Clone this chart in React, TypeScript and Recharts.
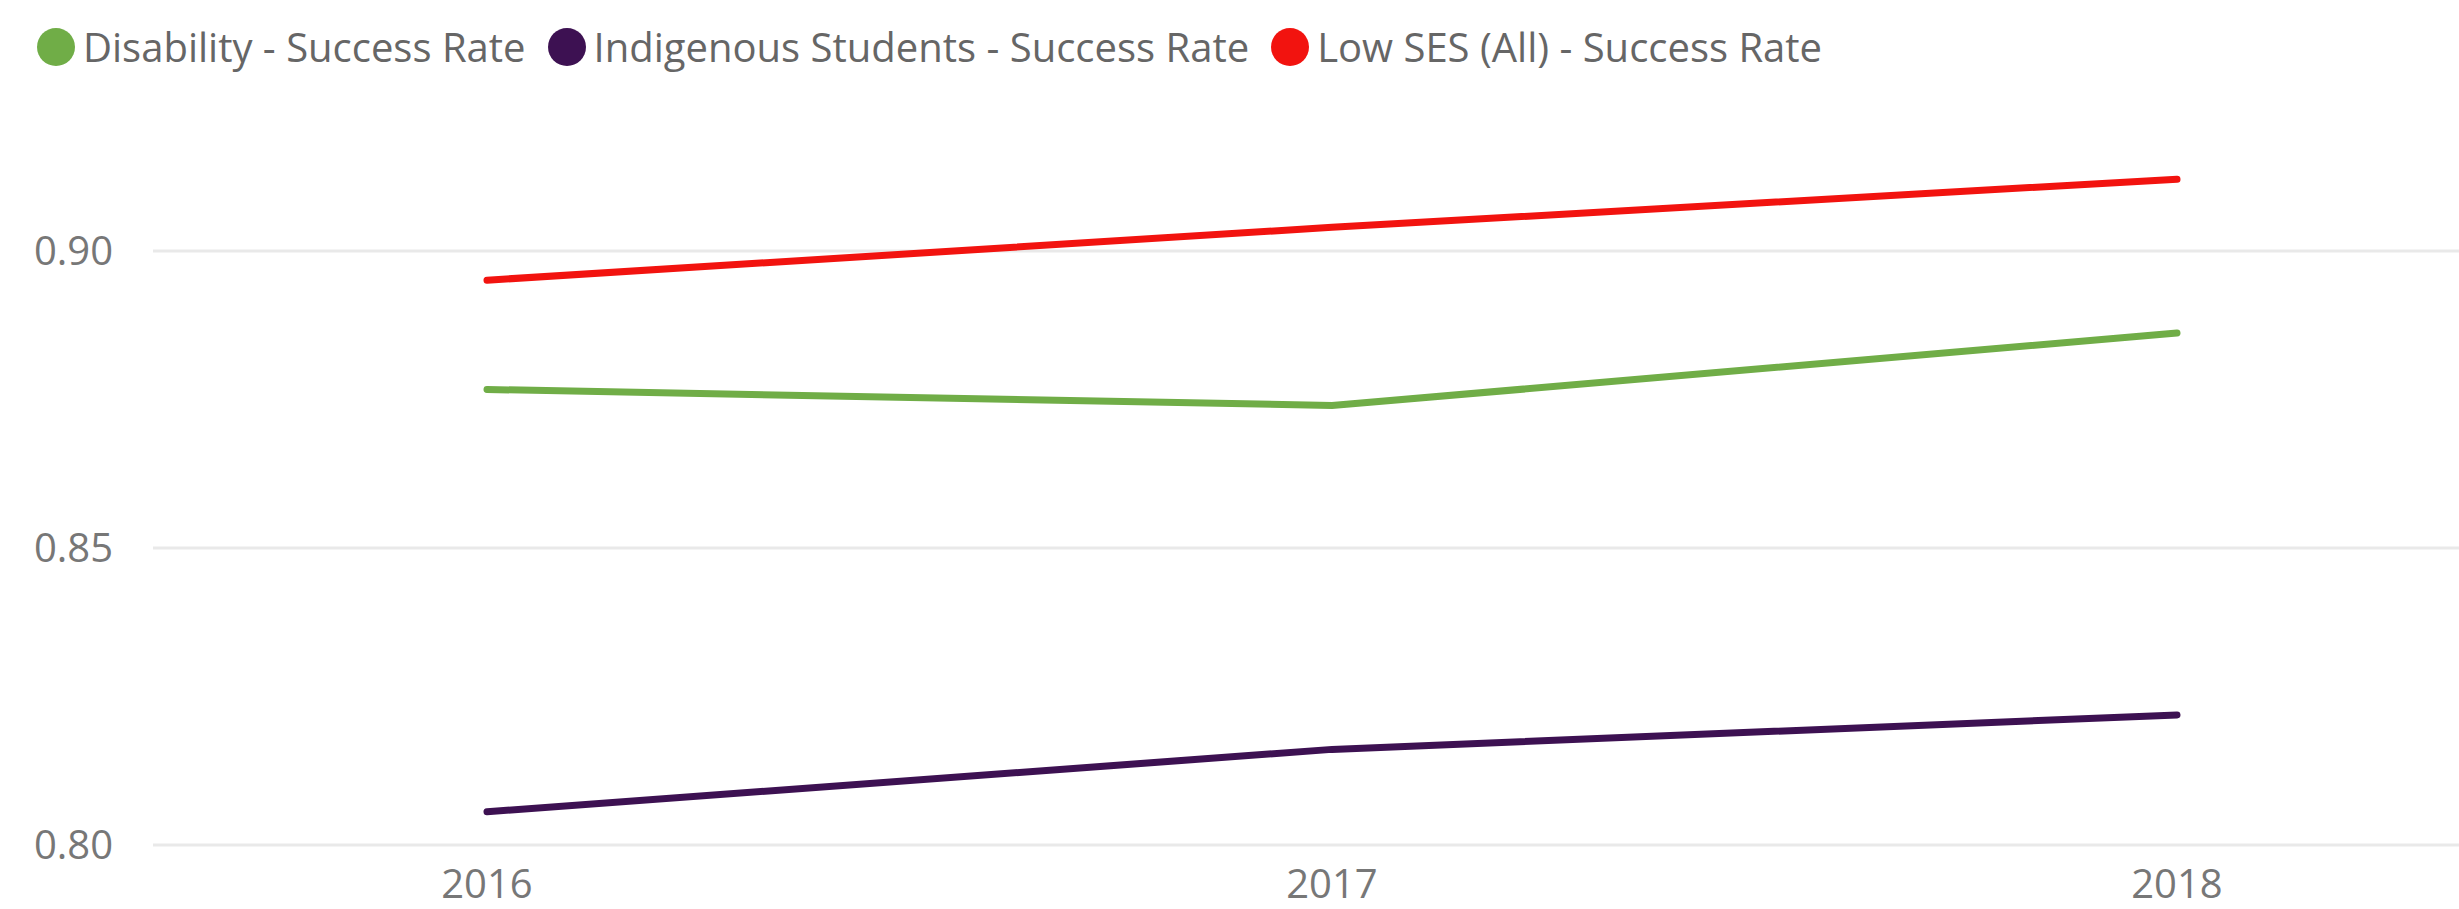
import React from 'react';
import { LineChart, Line, XAxis, YAxis, ReferenceLine } from 'recharts';

const years = ['2016', '2017', '2018'];
const disability = [0.8767, 0.874, 0.8862];
const indigenous = [0.8056, 0.8161, 0.8219];
const lowSes = [0.8951, 0.904, 0.9121];
const yTicks = [0.8, 0.85, 0.9];

const seriesList = [
  { key: 'disability', name: 'Disability - Success Rate', color: '#70AD47', values: disability },
  { key: 'indigenous', name: 'Indigenous Students - Success Rate', color: '#3D1152', values: indigenous },
  { key: 'lowSes', name: 'Low SES (All) - Success Rate', color: '#F2130F', values: lowSes },
];

const data = years.map((year, i) => {
  const row: Record<string, string | number> = { year };
  seriesList.forEach((s) => {
    row[s.key] = s.values[i];
  });
  return row;
});

const FONT = '"Open Sans", "Segoe UI", sans-serif';

// legend drawn by hand (outside the svg) so it doesn't squeeze the plot
const ChartLegend = () => (
  <div
    style={{
      position: 'absolute',
      left: 37,
      top: 27,
      display: 'flex',
      alignItems: 'center',
      fontFamily: FONT,
      fontSize: 40,
      lineHeight: '40px',
      color: '#666666',
      whiteSpace: 'nowrap',
    }}
  >
    {seriesList.map((s) => (
      <div key={s.key} style={{ display: 'flex', alignItems: 'center', marginRight: 22 }}>
        <span
          style={{
            width: 38,
            height: 38,
            borderRadius: '50%',
            background: s.color,
            display: 'inline-block',
            marginRight: 8,
          }}
        />
        <span>{s.name}</span>
      </div>
    ))}
  </div>
);

const App: React.FC = () => {
  return (
    <div style={{ position: 'absolute', left: 0, top: 0, width: 2459, height: 909, background: '#fff' }}>
      <LineChart width={2459} height={909} data={data} margin={{ top: 162, right: 0, bottom: 0, left: 0 }}>
        <XAxis
          dataKey="year"
          axisLine={false}
          tickLine={false}
          tickSize={0}
          tickMargin={25}
          height={64}
          padding={{ left: 334, right: 282 }}
          tick={{ fill: '#777777', fontSize: 40, fontFamily: FONT }}
        />
        <YAxis
          domain={[0.8, 0.915]}
          ticks={yTicks}
          allowDataOverflow
          axisLine={false}
          tickLine={false}
          tickSize={0}
          tickMargin={40}
          width={153}
          tickFormatter={(v: number) => v.toFixed(2)}
          tick={{ fill: '#777777', fontSize: 40, fontFamily: FONT }}
        />
        {/* gridlines only at the labelled ticks */}
        {yTicks.map((t) => (
          <ReferenceLine key={t} y={t} stroke="#E9E9E9" strokeWidth={3} />
        ))}
        {seriesList.map((s) => (
          <Line
            key={s.key}
            type="linear"
            dataKey={s.key}
            name={s.name}
            stroke={s.color}
            strokeWidth={7}
            strokeLinecap="round"
            dot={false}
            activeDot={false}
            isAnimationActive={false}
          />
        ))}
      </LineChart>
      <ChartLegend />
    </div>
  );
};

export default App;
